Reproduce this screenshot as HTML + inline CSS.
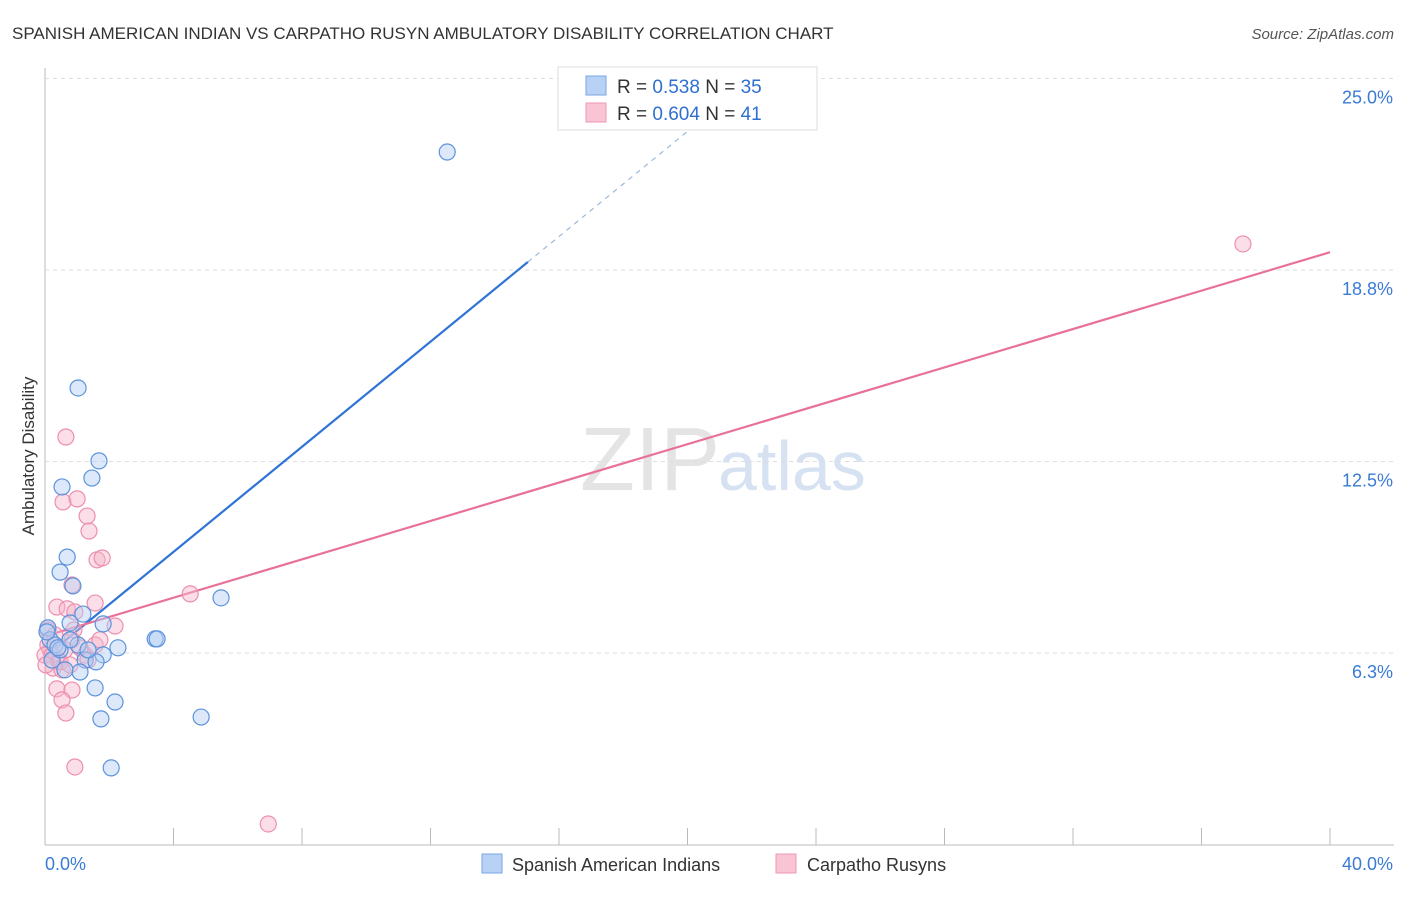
<!DOCTYPE html>
<html><head><meta charset="utf-8"><style>
body{margin:0;background:#fff;font-family:"Liberation Sans",sans-serif;}
svg text{font-family:"Liberation Sans",sans-serif;}
</style></head><body>
<svg width="1406" height="892">
<text x="12" y="39" font-size="17" fill="#333">SPANISH AMERICAN INDIAN VS CARPATHO RUSYN AMBULATORY DISABILITY CORRELATION CHART</text>
<text x="1394" y="39" font-size="15" fill="#555" font-style="italic" text-anchor="end">Source: ZipAtlas.com</text>
<text x="34" y="456" font-size="17" fill="#333" text-anchor="middle" transform="rotate(-90 34 456)">Ambulatory Disability</text>
<text x="720" y="490" font-size="90" fill="#e4e4e4" text-anchor="end" font-family="Liberation Serif">ZIP</text>
<text x="718" y="490" font-size="70" fill="#d6e2f2">atlas</text>
<g id="grid"></g><g id="trend"></g><g id="pts"></g>
<g>
<rect x="558" y="67" width="259" height="63" fill="#fff" stroke="#ddd"/>
<rect x="586" y="76" width="20" height="19" fill="#b8d2f5" stroke="#7aa6e3"/>
<rect x="586" y="103" width="20" height="19" fill="#f9c4d4" stroke="#ee99b4"/>
<text x="617" y="93" font-size="19" fill="#333">R = <tspan fill="#2f6fd0">0.538</tspan>   N = <tspan fill="#2f6fd0">35</tspan></text>
<text x="617" y="120" font-size="19" fill="#333">R = <tspan fill="#2f6fd0">0.604</tspan>   N = <tspan fill="#2f6fd0">41</tspan></text>
</g>
<g>
<rect x="482" y="854" width="20" height="19" fill="#b8d2f5" stroke="#7aa6e3"/>
<text x="512" y="871" font-size="18" fill="#333">Spanish American Indians</text>
<rect x="776" y="854" width="20" height="19" fill="#f9c4d4" stroke="#ee99b4"/>
<text x="807" y="871" font-size="18" fill="#333">Carpatho Rusyns</text>
</g>
</svg>
<script>
const xTicks=[0,5,10,15,20,25,30,35,40];
const yTicks=[6.25,12.5,18.75,25];
const yTickLabels=["6.3%","12.5%","18.8%","25.0%"];
const blueX=[12.52,1.03,1.68,1.46,0.53,0.69,0.47,0.87,1.18,0.78,1.81,5.48,3.43,3.49,2.27,1.81,0.09,0.16,0.31,0.22,0.47,1.03,1.25,1.59,1.09,1.56,2.18,1.74,4.86,2.06,0.06,0.40,0.78,1.34,0.62];
const blueY=[22.60,14.90,12.52,11.96,11.67,9.38,8.89,8.44,7.52,7.23,7.20,8.05,6.71,6.71,6.42,6.19,7.07,6.68,6.51,6.02,6.35,6.51,6.02,5.96,5.63,5.11,4.65,4.10,4.16,2.50,6.94,6.42,6.68,6.35,5.70];
const pinkX=[37.29,0.65,0.56,1.00,1.31,1.37,1.62,1.78,0.84,4.52,0.37,0.69,0.93,1.56,2.18,0.09,0.31,0.84,0.16,0.40,0.25,0.53,1.25,1.56,0.37,0.84,0.53,0.65,0.93,6.95,0.09,0.00,0.22,0.47,1.09,1.34,0.90,1.71,0.03,0.62,0.78];
const pinkY=[19.60,13.30,11.18,11.28,10.72,10.23,9.29,9.35,8.47,8.18,7.75,7.69,7.59,7.88,7.13,7.00,6.84,6.68,6.35,6.02,5.76,5.70,6.18,6.51,5.08,5.04,4.72,4.29,2.53,0.67,6.51,6.18,6.18,5.96,6.42,6.02,7.00,6.68,5.86,6.35,5.86];
const blueTrend=[[0,6.12],[15.03,19.01],[21.3,24.39]];
const pinkTrend=[[0,6.80],[40,19.33]];
const X=v=>45+v*32.125, Y=v=>844.5-v*30.64;
const NS="http://www.w3.org/2000/svg";
function mk(p,t,a){const e=document.createElementNS(NS,t);for(const k in a)e.setAttribute(k,a[k]);p.appendChild(e);return e;}
const grid=document.getElementById('grid');
let ax=mk(grid,'line',{x1:45,y1:68,x2:45,y2:845,stroke:'#bbb'});

let bx=mk(grid,'line',{x1:45,y1:845,x2:1394,y2:845,stroke:'#bbb'});

yTicks.forEach((v,i)=>{
 const g=mk(grid,'line',{x1:45,y1:Y(v),x2:1394,y2:Y(v),stroke:'#ddd','stroke-dasharray':'4,4'});
 
 const t=mk(grid,'text',{x:1393,y:Y(v)+25,'font-size':18,fill:'#3a7bd5','text-anchor':'end'});t.textContent=yTickLabels[i];
 
});
[0,4,8,12,16,20,24,28,32,36,40].forEach(v=>{
 const l=mk(grid,'line',{x1:X(v),y1:828,x2:X(v),y2:845,stroke:'#bbb'});
 
});
let t0=mk(grid,'text',{x:45,y:870,'font-size':18,fill:'#3a7bd5'});t0.textContent='0.0%';

let t1=mk(grid,'text',{x:1393,y:870,'font-size':18,fill:'#3a7bd5','text-anchor':'end'});t1.textContent='40.0%';

const pts=document.getElementById('pts');
function dots(xs,ys,fill,stroke,name){xs.forEach((x,i)=>{const c=mk(pts,'circle',{cx:X(x),cy:Y(ys[i]),r:8,fill:fill,'fill-opacity':0.45,stroke:stroke,'stroke-width':1.2});
 });}
dots(pinkX,pinkY,'#f7b6c9','#ec8fae','carpatho-point');
dots(blueX,blueY,'#b3cff3','#5b93dc','spanish-point');
const tr=document.getElementById('trend');
let b1=mk(tr,'line',{x1:X(blueTrend[0][0]),y1:Y(blueTrend[0][1]),x2:X(blueTrend[1][0]),y2:Y(blueTrend[1][1]),stroke:'#2f74d6','stroke-width':2.2});

let b2=mk(tr,'line',{x1:X(blueTrend[1][0]),y1:Y(blueTrend[1][1]),x2:X(blueTrend[2][0]),y2:Y(blueTrend[2][1]),stroke:'#9bb8da','stroke-width':1.2,'stroke-dasharray':'5,5'});

let p1=mk(tr,'line',{x1:X(pinkTrend[0][0]),y1:Y(pinkTrend[0][1]),x2:X(pinkTrend[1][0]),y2:Y(pinkTrend[1][1]),stroke:'#e8719a','stroke-width':2.2});

</script>
</body></html>
